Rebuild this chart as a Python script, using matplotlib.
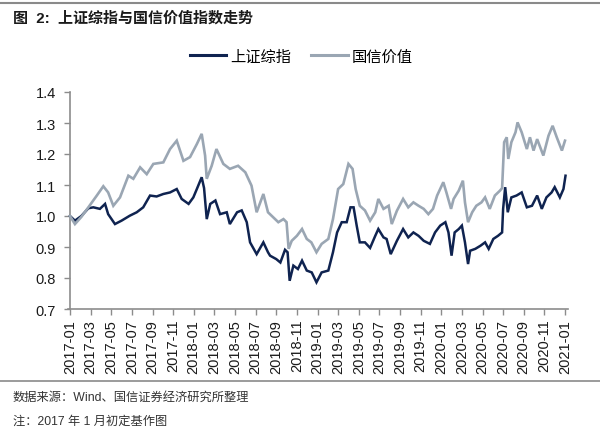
import matplotlib
matplotlib.use("Agg")
import matplotlib.pyplot as plt
from matplotlib.lines import Line2D

plt.rcParams['font.family'] = ['Liberation Sans', 'Noto Sans CJK SC', 'DejaVu Sans']

# months since 2017-01
sh_x = [0, 0.48, 1.1, 1.78, 2.26, 2.9, 3.4, 3.7, 4.36, 5.0, 5.8, 6.47, 7.1, 7.76, 8.4, 9.05,
        9.7, 10.35, 10.83, 11.5, 11.96, 12.3, 12.77, 13.0, 13.26, 13.6, 14.1, 14.55, 15.2, 15.5,
        16.2, 16.65, 17.14, 17.46, 18.1, 18.75, 19.2, 19.4, 20.0, 20.4, 20.85, 21.1, 21.3, 21.66,
        22.1, 22.5, 22.96, 23.44, 23.9, 24.4, 25.05, 25.5, 25.9, 26.35, 26.83, 27.2, 27.5, 27.8,
        28.1, 28.6, 29.1, 29.6, 29.9, 30.4, 30.7, 31.1, 31.7, 32.3, 32.8, 33.3, 33.8, 34.3, 34.9,
        35.4, 35.9, 36.4, 36.7, 37.0, 37.3, 37.7, 38.0, 38.3, 38.6, 38.8, 39.3, 39.8, 40.25, 40.6,
        41.05, 41.5, 41.9, 42.0, 42.2, 42.45, 42.8, 43.3, 43.8, 44.3, 44.8, 45.3, 45.75, 46.2,
        46.7, 47.0, 47.5, 47.85, 48.05]
sh_y = [1.0, 0.985, 1.0, 1.025, 1.028, 1.023, 1.039, 1.006, 0.974, 0.985, 1.001, 1.012, 1.028,
        1.066, 1.063, 1.071, 1.076, 1.087, 1.055, 1.039, 1.06, 1.087, 1.125, 1.09, 0.99, 1.039,
        1.05, 1.006, 1.012, 0.974, 1.012, 1.018, 0.98, 0.915, 0.877, 0.915, 0.883, 0.872, 0.861,
        0.85, 0.891, 0.883, 0.791, 0.84, 0.829, 0.856, 0.824, 0.818, 0.786, 0.818, 0.824, 0.883,
        0.947, 0.98, 0.98, 1.028, 1.028, 0.969, 0.915, 0.915, 0.897, 0.936, 0.958, 0.931, 0.926,
        0.877, 0.92, 0.958, 0.931, 0.947, 0.936, 0.92, 0.91, 0.947, 0.969, 0.98, 0.947, 0.872,
        0.947, 0.958, 0.969, 0.915, 0.845, 0.888, 0.894, 0.904, 0.915, 0.894, 0.926, 0.936, 0.947,
        1.023, 1.093, 1.012, 1.06, 1.066, 1.076, 1.028, 1.033, 1.066, 1.023, 1.06, 1.076, 1.093,
        1.06, 1.087, 1.13]

gx_x = [0, 0.48, 1.1, 1.78, 2.6, 3.23, 3.7, 4.2, 4.85, 5.66, 6.14, 6.8, 7.44, 8.08, 9.05, 9.7,
        10.35, 11.0, 11.64, 12.3, 12.77, 13.1, 13.26, 13.74, 14.2, 14.87, 15.5, 16.3, 17.0, 17.6,
        18.1, 18.75, 19.2, 19.7, 20.2, 20.7, 21.0, 21.2, 21.5, 22.0, 22.5, 22.96, 23.4, 23.9,
        24.4, 25.05, 25.5, 26.0, 26.5, 27.0, 27.4, 27.7, 28.1, 28.6, 29.1, 29.6, 29.9, 30.4,
        30.9, 31.2, 31.7, 32.3, 32.8, 33.3, 33.8, 34.3, 34.75, 35.2, 35.6, 36.2, 36.5, 36.95,
        37.2, 37.7, 38.1, 38.3, 38.6, 39.0, 39.4, 39.9, 40.25, 40.7, 41.2, 41.7, 41.9, 42.1,
        42.35, 42.5, 42.8, 43.2, 43.4, 43.8, 44.3, 44.6, 44.95, 45.3, 45.9, 46.4, 46.8, 47.2,
        47.7, 48.0]
gx_y = [1.0, 0.974, 0.997, 1.028, 1.066, 1.096, 1.076, 1.033, 1.06, 1.13, 1.12, 1.157, 1.135,
        1.168, 1.173, 1.216, 1.243, 1.178, 1.19, 1.232, 1.265, 1.195, 1.12, 1.162, 1.216, 1.168,
        1.152, 1.162, 1.141, 1.098, 1.012, 1.071, 1.012, 0.996, 0.98, 0.99, 0.98, 0.894, 0.92,
        0.936, 0.958, 0.926, 0.915, 0.883, 0.91, 0.926, 0.99, 1.087, 1.103, 1.168, 1.152, 1.087,
        1.033, 1.018, 0.985, 1.012, 1.055, 1.023, 1.033, 0.974, 1.017, 1.055, 1.028, 1.044,
        1.033, 1.023, 1.006, 1.023, 1.066, 1.109, 1.076, 1.023, 1.055, 1.082, 1.114, 1.044,
        0.98, 1.012, 1.033, 1.044, 1.06, 1.023, 1.066, 1.082, 1.09, 1.238, 1.254, 1.184, 1.238,
        1.27, 1.302, 1.27, 1.216, 1.254, 1.211, 1.248, 1.195, 1.259, 1.291, 1.254, 1.211, 1.243]

tick_labels = ['2017-01', '2017-03', '2017-05', '2017-07', '2017-09', '2017-11',
               '2018-01', '2018-03', '2018-05', '2018-07', '2018-09', '2018-11',
               '2019-01', '2019-03', '2019-05', '2019-07', '2019-09', '2019-11',
               '2020-01', '2020-03', '2020-05', '2020-07', '2020-09', '2020-11', '2021-01']
tick_pos = [2 * i for i in range(len(tick_labels))]
y_ticks = [0.7, 0.8, 0.9, 1.0, 1.1, 1.2, 1.3, 1.4]

name_sh = '上证综指'
name_gx = '国信价值'
title = '图  2:  上证综指与国信价值指数走势'
source = '数据来源：Wind、国信证券经济研究所整理'
note = '注：2017 年 1 月初定基作图'

c_dark = '#0f2350'
c_gray = '#9aa6b3'
c_axis = '#8c8c8c'

W, H = 600, 431
fig = plt.figure(figsize=(6.0, 4.31), dpi=100)
ax = fig.add_axes([70 / W, 1 - 310 / H, (565 - 70) / W, (310 - 93) / H])

ax.plot(sh_x, sh_y, color=c_dark, lw=1.8, solid_joinstyle='miter', clip_on=False, zorder=2)
ax.plot(gx_x, gx_y, color=c_gray, lw=1.9, solid_joinstyle='miter', clip_on=False, zorder=3)

ax.set_xlim(0, 48)
ax.set_ylim(0.7, 1.4)
ax.set_yticks(y_ticks)
ax.set_yticklabels([f'{v:.1f}' for v in y_ticks])
ax.set_xticks(tick_pos)
ax.set_xticklabels(tick_labels, rotation=90)

for s in ['top', 'right']:
    ax.spines[s].set_visible(False)
for s in ['left', 'bottom']:
    ax.spines[s].set_color(c_axis)
    ax.spines[s].set_linewidth(1.2)
ax.spines['bottom'].set_bounds(-0.2, 48.3)
ax.tick_params(axis='both', colors=c_axis, length=4, width=1.0, direction='out',
               labelcolor='#1a1a1a', labelsize=10.5)
ax.tick_params(axis='x', pad=3)
ax.tick_params(axis='y', pad=6)

handles = [Line2D([], [], color=c_dark, lw=2.2), Line2D([], [], color=c_gray, lw=2.2)]
fig.legend(handles, [name_sh, name_gx], loc='center', ncol=2,
           bbox_to_anchor=(301 / W, 1 - 57 / H), frameon=False,
           prop={'family': ['Noto Sans CJK SC'], 'size': 11},
           handlelength=2.4, handletextpad=0.25, columnspacing=1.3)

# frame lines and texts
fig.add_artist(Line2D([0, 1], [1 - 4 / H, 1 - 4 / H], color='#8a8a8a', lw=1.5))
fig.add_artist(Line2D([0, 1], [1 - 382 / H, 1 - 382 / H], color='#8a8a8a', lw=1.2))

fig.text(13 / W, 1 - 18 / H, title, fontsize=10.8, fontweight='bold', va='center', ha='left',
         color='#1a1a1a', family=['Liberation Sans', 'Noto Sans CJK SC'])
fig.text(13 / W, 1 - 398 / H, source, fontsize=8.8, va='center', ha='left', color='#333333',
         family=['Liberation Sans', 'Noto Sans CJK SC'])
fig.text(13 / W, 1 - 422 / H, note, fontsize=8.8, va='center', ha='left', color='#333333',
         family=['Liberation Sans', 'Noto Sans CJK SC'])

fig.savefig('out.png', dpi=100)
